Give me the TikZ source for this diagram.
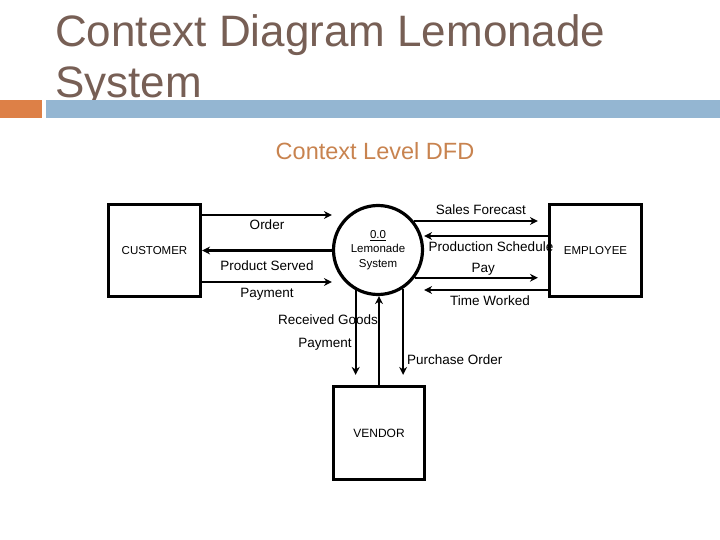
\documentclass[tikz,border=0pt]{standalone}
\usepackage{fontspec}
\setmainfont{Liberation Sans}
\usetikzlibrary{arrows.meta, positioning, calc}
\definecolor{titlebrown}{HTML}{775F55}
\definecolor{subbrown}{HTML}{C8834F}
\definecolor{accentorange}{HTML}{DD8047}
\definecolor{barblue}{HTML}{94B6D2}

\begin{document}
\begin{tikzpicture}[x=1pt, y=-1pt, >={Stealth[length=8pt, width=8pt]},
    entity/.style={draw=black, line width=3.2pt, inner sep=0pt, font=\fontsize{11.5}{14}\selectfont},
    flow/.style={->, line width=2.2pt},
    lbl/.style={inner sep=1pt, font=\fontsize{13.5}{16}\selectfont}]
    \useasboundingbox (0,0) rectangle (720,540);

    % title and bar
    \node[anchor=base west, text=titlebrown, font=\fontsize{44}{52}\selectfont, inner sep=0pt] (title1) at (55,47) {Context Diagram Lemonade};
    \node[anchor=base west, text=titlebrown, font=\fontsize{44}{52}\selectfont, inner sep=0pt] (title2) at (55,98) {System};
    \fill[accentorange] (0,100) rectangle (42,118);
    \fill[barblue] (46,100) rectangle (720,118);
    \node[text=subbrown, font=\fontsize{23.5}{27}\selectfont] (sub) at (375,151) {Context Level DFD};

    % process and entities
    \node[entity, circle, minimum size=89pt, align=center, font=\fontsize{11.5}{14.5}\selectfont] (proc) at (378,250)
      {\underline{0.0}\\Lemonade\\System};
    \node[entity, minimum width=92pt, minimum height=92pt] (cust) at (154.5,250.5) {CUSTOMER};
    \node[entity, minimum width=92pt, minimum height=92pt] (emp) at (595.5,250.5) {EMPLOYEE};
    \node[entity, minimum width=91pt, minimum height=93pt, font=\fontsize{12}{14}\selectfont] (vend) at (379,433) {VENDOR};

    % customer side
    \coordinate (orderA) at ([yshift=35.5pt]cust.east);
    \coordinate (payA) at ([yshift=-31.5pt]cust.east);
    \draw[flow] (orderA) -- (orderA -| proc.west) node[lbl, midway, below=3pt] {Order};
    \draw[flow] (cust.east -| proc.west) -- (cust.east) node[lbl, midway, below=8pt] {Product Served};
    \draw[flow] (payA) -- (payA -| proc.west) node[lbl, midway, below=4pt] {Payment};

    % employee side
    \coordinate (schedA) at ([yshift=14.5pt]emp.west);
    \coordinate (timeA) at ([yshift=-39.5pt]emp.west);
    \draw[flow, shorten >=10pt] (proc.39) -- (proc.39 -| emp.west) node[lbl, midway, above=4pt] {Sales Forecast};
    \draw[flow] (schedA) -- (schedA -| proc.east) node[lbl, midway, below=4pt, xshift=5pt] {Production Schedule};
    \draw[flow, shorten >=10pt] (proc.-37) -- (proc.-37 -| emp.west) node[lbl, midway, above=0pt, xshift=2pt] {Pay};
    \draw[flow] (timeA) -- (timeA -| proc.east) node[lbl, midway, below=4pt, xshift=4pt] {Time Worked};

    % vendor side
    \draw[flow, shorten >=10pt] (proc.241) -- (proc.241 |- vend.north) node[lbl, pos=0.57, left=2pt] {Payment};
    \draw[flow] (vend.north) -- (vend.north |- proc.south) node[lbl, pos=0.73, left=-1pt] {Received Goods};
    \draw[flow, shorten >=10pt] (proc.-57) -- (proc.-57 |- vend.north) node[lbl, pos=0.74, right=2pt] {Purchase Order};
\end{tikzpicture}
\end{document}
